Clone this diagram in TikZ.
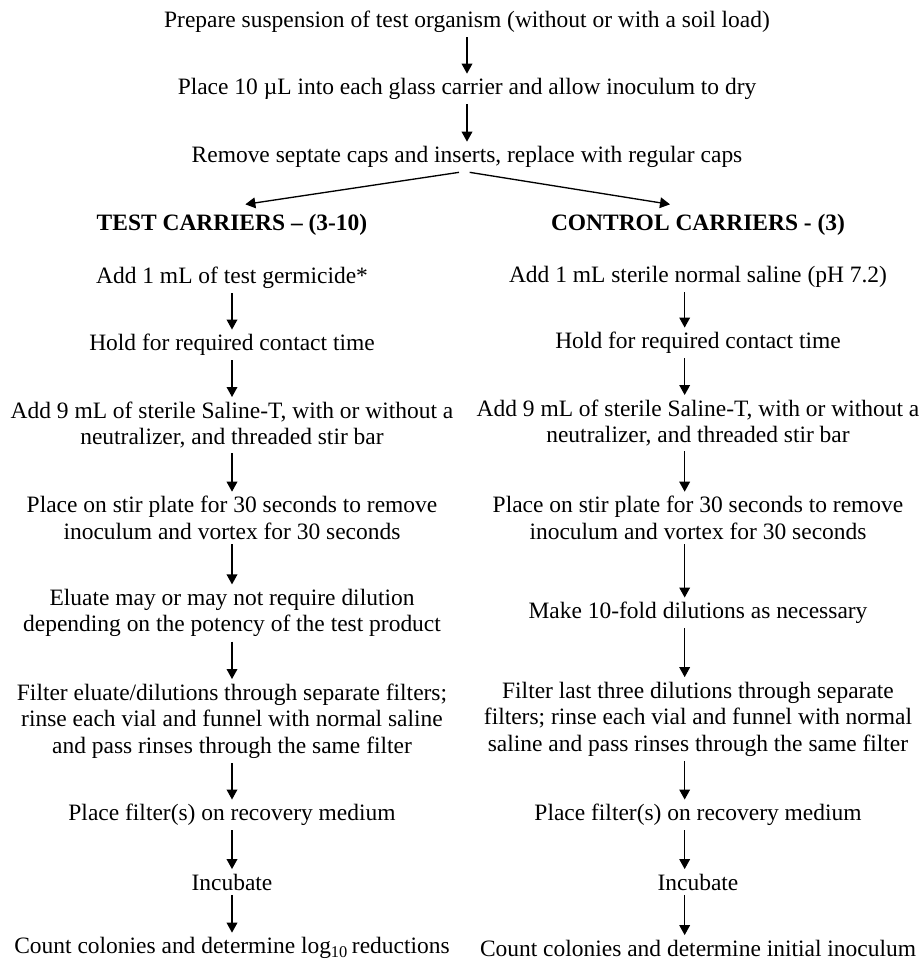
\documentclass[tikz,border=0pt]{standalone}
\usepackage{fontspec}
\setmainfont{Liberation Serif}
\usetikzlibrary{arrows.meta}

\begin{document}
\begin{tikzpicture}[x=0.75pt, y=-0.75pt,
  stepbox/.style={align=center, inner sep=3pt, font=\fontsize{17.6}{19.9}\selectfont},
  headbox/.style={stepbox, font=\fontsize{17.6}{19.9}\selectfont\bfseries},
  >={Triangle[length=7.5pt,width=8pt]}, line width=1pt
]
\useasboundingbox (0,0) rectangle (922,960);

\node[stepbox] (prep) at (467,22) {Prepare suspension of test organism (without or with a soil load)};
\node[stepbox] (inoc) at (467,89) {Place 10 µL into each glass carrier and allow inoculum to dry};
\node[stepbox] (caps) at (467,157) {Remove septate caps and inserts, replace with regular caps};

\node[headbox] (thead) at (232,225) {TEST CARRIERS – (3-10)};
\node[headbox] (chead) at (698,225) {CONTROL CARRIERS - (3)};

% test carriers
\node[stepbox] (t1) at (232,278) {Add 1 mL of test germicide*};
\node[stepbox] (t2) at (232,345) {Hold for required contact time};
\node[stepbox] (t3) at (232,425) {Add 9 mL of sterile Saline-T, with or without a\\neutralizer, and threaded stir bar};
\node[stepbox] (t4) at (232,518) {Place on stir plate for 30 seconds to remove\\inoculum and vortex for 30 seconds};
\node[stepbox] (t5) at (232,613) {Eluate may or may not require dilution\\depending on the potency of the test product};
\node[stepbox] (t6) at (232,721) {Filter eluate/dilutions through separate filters;\\rinse each vial and funnel with normal saline\\and pass rinses through the same filter};
\node[stepbox] (t7) at (232,815) {Place filter(s) on recovery medium};
\node[stepbox] (t8) at (232,882) {Incubate};
\node[stepbox] (t9) at (232,948) {Count colonies and determine log\textsubscript{10}\,reductions};

% control carriers
\node[stepbox] (c1) at (698,277) {Add 1 mL sterile normal saline (pH 7.2)};
\node[stepbox] (c2) at (698,343) {Hold for required contact time};
\node[stepbox] (c3) at (698,423) {Add 9 mL of sterile Saline-T, with or without a\\neutralizer, and threaded stir bar};
\node[stepbox] (c4) at (698,518) {Place on stir plate for 30 seconds to remove\\inoculum and vortex for 30 seconds};
\node[stepbox] (c5) at (698,613) {Make 10-fold dilutions as necessary};
\node[stepbox] (c6) at (698,719) {Filter last three dilutions through separate\\filters; rinse each vial and funnel with normal\\saline and pass rinses through the same filter};
\node[stepbox] (c7) at (698,815) {Place filter(s) on recovery medium};
\node[stepbox] (c8) at (698,882) {Incubate};
\node[stepbox] (c9) at (698,948) {Count colonies and determine initial inoculum};

\draw[->] (prep)--(inoc); \draw[->] (inoc)--(caps);
\draw[->] ([xshift=-6pt]caps.south)--([xshift=10pt,yshift=4pt]thead.north);
\draw[->] ([xshift=2pt]caps.south)--([xshift=-21pt,yshift=4pt]chead.north);

\draw[->] (t1)--(t2); \draw[->] (t2)--(t3); \draw[->] (t3)--(t4); \draw[->] (t4)--(t5);
\draw[->] (t5)--(t6); \draw[->] (t6)--(t7); \draw[->] (t7)--(t8); \draw[->] (t8)--(t9);

\draw[->] ([xshift=-10pt]c1.south)--([xshift=-10pt]c2.north); \draw[->] ([xshift=-10pt]c2.south)--([xshift=-10pt]c3.north);
\draw[->] ([xshift=-10pt]c3.south)--([xshift=-10pt]c4.north); \draw[->] ([xshift=-10pt]c4.south)--([xshift=-10pt]c5.north);
\draw[->] ([xshift=-10pt]c5.south)--([xshift=-10pt]c6.north); \draw[->] ([xshift=-10pt]c6.south)--([xshift=-10pt]c7.north);
\draw[->] ([xshift=-10pt]c7.south)--([xshift=-10pt]c8.north); \draw[->] ([xshift=-10pt]c8.south)--([xshift=-10pt]c9.north);
\end{tikzpicture}
\end{document}
